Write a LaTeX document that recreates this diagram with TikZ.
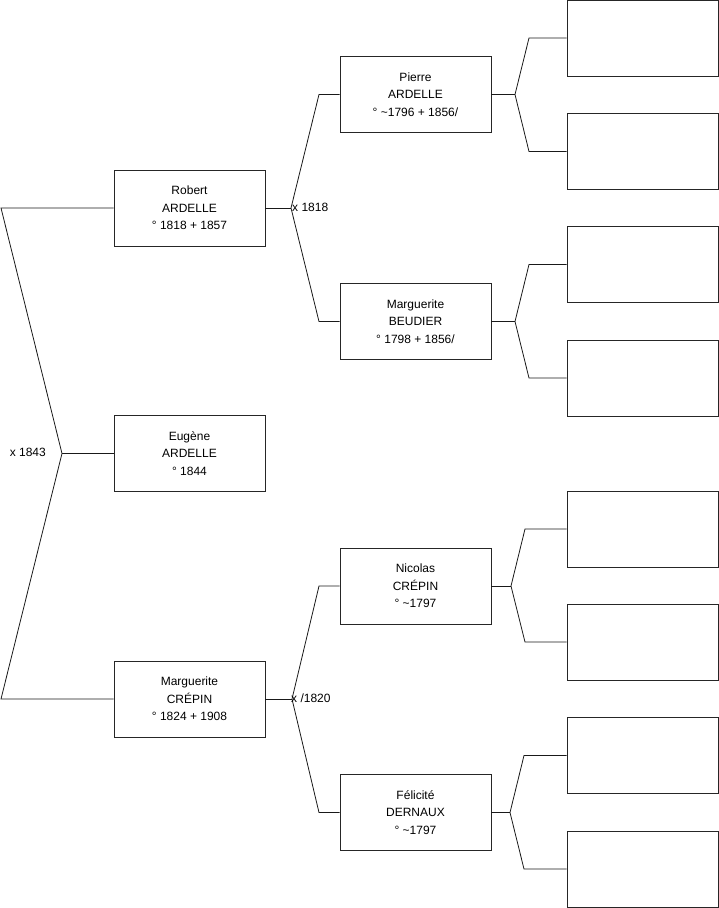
\documentclass[tikz,border=0pt]{standalone}
\usepackage{fontspec}
\setmainfont{Liberation Sans}
\begin{document}
\begin{tikzpicture}[x=1pt,y=-1pt,
  person/.style={draw=black!85, line width=0.9pt, minimum width=151pt, minimum height=76pt, inner sep=0pt, align=center, text depth=0pt, font=\fontsize{12}{17.5}\selectfont},
  link/.style={line width=0.8pt, black!90},
  lbl/.style={inner sep=0pt, font=\fontsize{12}{14}\selectfont}]
\useasboundingbox (0,0) rectangle (719,908);
% generation 1
\node[person] (robert) at (189.5,208) {Robert\\ARDELLE\\° 1818 + 1857};
\node[person] (eugene) at (189.5,453.5) {Eugène\\ARDELLE\\° 1844};
\node[person] (margc) at (189.5,699) {Marguerite\\CRÉPIN\\° 1824 + 1908};
% generation 2
\node[person] (pierre) at (415.5,94.5) {Pierre\\ARDELLE\\° \textasciitilde1796 + 1856/};
\node[person] (margb) at (415.5,321.5) {Marguerite\\BEUDIER\\° 1798 + 1856/};
\node[person] (nicolas) at (415.5,586) {Nicolas\\CRÉPIN\\° \textasciitilde1797};
\node[person] (felicite) at (415.5,812.5) {Félicité\\DERNAUX\\° \textasciitilde1797};
% generation 3
\node[person] (g1) at (642.5,38) {};
\node[person] (g2) at (642.5,151.5) {};
\node[person] (g3) at (642.5,264.5) {};
\node[person] (g4) at (642.5,378) {};
\node[person] (g5) at (642.5,529) {};
\node[person] (g6) at (642.5,642) {};
\node[person] (g7) at (642.5,755.5) {};
\node[person] (g8) at (642.5,869) {};
% fork coordinates
\coordinate (a0t) at (1,208);
\coordinate (a0) at (62,453.5);
\coordinate (a0b) at (1,699);
\coordinate (b1) at (291,208);
\coordinate (b1t) at (319,94.5);
\coordinate (b1b) at (319,321.5);
\coordinate (b2) at (292,699);
\coordinate (b2t) at (319,586);
\coordinate (b2b) at (319,812.5);
\coordinate (c1) at (515,94.5);
\coordinate (c1t) at (529,38);
\coordinate (c1b) at (529,151.5);
\coordinate (c2) at (515,321.5);
\coordinate (c2t) at (529,264.5);
\coordinate (c2b) at (529,378);
\coordinate (c3) at (511,586);
\coordinate (c3t) at (525,529);
\coordinate (c3b) at (525,642);
\coordinate (c4) at (510,812.5);
\coordinate (c4t) at (524,755.5);
\coordinate (c4b) at (524,869);
% connectors
\draw[link] (robert.west) -- (a0t) -- (a0) -- (a0b) -- (margc.west);
\draw[link] (a0) -- (eugene.west);
\draw[link] (robert.east) -- (b1);
\draw[link] (pierre.west) -- (b1t) -- (b1) -- (b1b) -- (margb.west);
\draw[link] (margc.east) -- (b2);
\draw[link] (nicolas.west) -- (b2t) -- (b2) -- (b2b) -- (felicite.west);
\draw[link] (pierre.east) -- (c1);
\draw[link] (g1.west) -- (c1t) -- (c1) -- (c1b) -- (g2.west);
\draw[link] (margb.east) -- (c2);
\draw[link] (g3.west) -- (c2t) -- (c2) -- (c2b) -- (g4.west);
\draw[link] (nicolas.east) -- (c3);
\draw[link] (g5.west) -- (c3t) -- (c3) -- (c3b) -- (g6.west);
\draw[link] (felicite.east) -- (c4);
\draw[link] (g7.west) -- (c4t) -- (c4) -- (c4b) -- (g8.west);
% marriage labels
\node[lbl, anchor=east] (m0) at (46,452) {x 1843};
\node[lbl, anchor=west] (m1) at (292,207) {x 1818};
\node[lbl, anchor=west] (m2) at (291,698) {x /1820};
\end{tikzpicture}
\end{document}
